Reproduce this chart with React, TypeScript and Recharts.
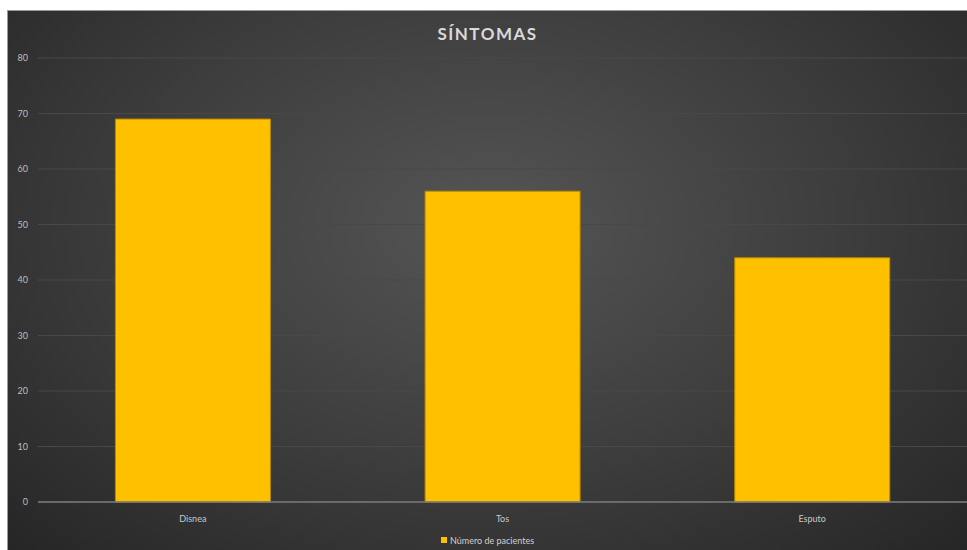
import { BarChart, Bar, XAxis, YAxis, CartesianGrid, Legend } from "recharts";

const sintomas = ["Disnea", "Tos", "Esputo"];
const pacientes = [69, 56, 44];
const yTicks = [0, 10, 20, 30, 40, 50, 60, 70, 80];

const data = sintomas.map((name, i) => ({ name, pacientes: pacientes[i] }));

const renderLegend = () => (
  <div
    style={{
      display: "flex",
      justifyContent: "center",
      alignItems: "center",
      fontFamily: "Lato, 'Open Sans', sans-serif",
      fontSize: 9,
      color: "#d0d0d0",
      height: 16,
    }}
  >
    <span style={{ width: 6, height: 6, background: "#FFC000", marginRight: 3, display: "inline-block" }} />
    Número de pacientes
  </div>
);

const App = () => {
  return (
    <div
      style={{
        position: "absolute",
        left: 7,
        top: 10,
        width: 960,
        height: 540,
        background: "radial-gradient(ellipse at 50% 40%, #555555 0%, #3c3c3c 55%, #262626 100%)",
        borderTop: "1px solid #9a9a9a",
        borderLeft: "1px solid #9a9a9a",
        boxSizing: "border-box",
      }}
    >
      <div
        style={{
          position: "absolute",
          top: 12,
          width: "100%",
          textAlign: "center",
          fontFamily: "Lato, 'Open Sans', sans-serif",
          fontWeight: 700,
          fontSize: 17,
          color: "#d9d9d9",
          letterSpacing: 1.5,
        }}
      >
        SÍNTOMAS
      </div>
      <BarChart
        width={959}
        height={539}
        data={data}
        margin={{ top: 47, right: 0, left: 0, bottom: 2 }}
        barCategoryGap="25%"
        style={{ fontFamily: "Lato, 'Open Sans', sans-serif" }}
      >
        <CartesianGrid vertical={false} stroke="#484848" strokeWidth={1} />
        <XAxis
          dataKey="name"
          axisLine={{ stroke: "#7a7a7a", strokeWidth: 1.5 }}
          tickLine={false}
          tick={{ fill: "#c8c8c8", fontSize: 9 }}
          tickMargin={8}
          height={30}
        />
        <YAxis
          domain={[0, 80]}
          ticks={yTicks}
          width={30}
          axisLine={false}
          tickLine={false}
          tick={{ fill: "#bdbdbd", fontSize: 9 }}
          tickMargin={4}
        />
        <Legend verticalAlign="bottom" content={renderLegend} height={16} />
        <Bar
          dataKey="pacientes"
          name="Número de pacientes"
          fill="#FFC000"
          stroke="#b88a00"
          strokeWidth={1}
          isAnimationActive={false}
        />
      </BarChart>
    </div>
  );
};

export default App;
